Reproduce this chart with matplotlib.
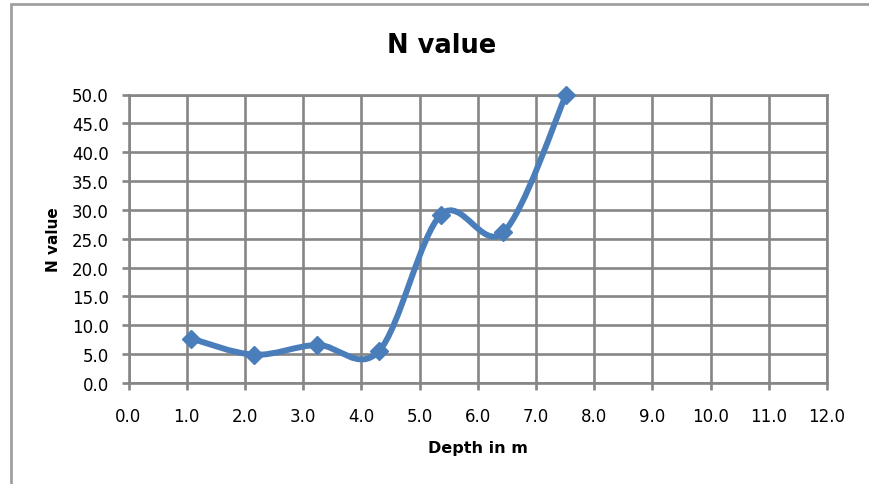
import numpy as np
import matplotlib
matplotlib.use("Agg")
import matplotlib.pyplot as plt
from matplotlib.path import Path
from matplotlib.patches import PathPatch, Rectangle

# data
depth = [1.08, 2.16, 3.24, 4.30, 5.37, 6.44, 7.52]
n_value = [7.7, 4.9, 6.6, 5.5, 29.2, 26.1, 50.0]
x_ticks = np.arange(0, 12.5, 1.0)
y_ticks = np.arange(0, 50.5, 5.0)

plt.rcParams['font.family'] = ['DejaVu Sans']

line_color = "#4A7EBB"
grid_color = "#868686"


def smooth_path(xs, ys):
    # Excel style smoothed line: cubic bezier with catmull-rom control points
    pts = np.column_stack([xs, ys])
    verts = [pts[0]]
    codes = [Path.MOVETO]
    n = len(pts)
    for i in range(n - 1):
        p0 = pts[max(i - 1, 0)]
        p1 = pts[i]
        p2 = pts[i + 1]
        p3 = pts[min(i + 2, n - 1)]
        c1 = p1 + (p2 - p0) / 6.0
        c2 = p2 - (p3 - p1) / 6.0
        verts += [c1, c2, p2]
        codes += [Path.CURVE4] * 3
    return Path(verts, codes)


fig = plt.figure(figsize=(8.7, 4.85), dpi=100)
fig.patches.append(Rectangle((11 / 870, -0.1), 1.2, 1.1 - 4.5 / 485,
                             transform=fig.transFigure, fill=False,
                             edgecolor="#A0A0A0", linewidth=2, zorder=0))

ax = fig.add_axes([128.5 / 870, 1 - 384 / 485, (827 - 128.5) / 870, (384 - 95.5) / 485])
ax.set_xlim(0, 12)
ax.set_ylim(0, 50)
ax.set_xticks(x_ticks)
ax.set_yticks(y_ticks)
ax.set_xticklabels([f"{v:.1f}" for v in x_ticks])
ax.set_yticklabels([f"{v:.1f}" for v in y_ticks])
ax.grid(True, color=grid_color, linewidth=1.9)
ax.set_axisbelow(True)
for s in ax.spines.values():
    s.set_color(grid_color)
    s.set_linewidth(1.9)
ax.tick_params(axis="both", colors=grid_color, width=1.9, length=4.7,
               labelcolor="black", labelsize=12)
ax.tick_params(axis="x", pad=12.5)
ax.tick_params(axis="y", pad=9.5)

patch = PathPatch(smooth_path(depth, n_value), facecolor="none",
                  edgecolor=line_color, linewidth=4.3, capstyle="round",
                  joinstyle="round", zorder=3, clip_on=False)
ax.add_patch(patch)
ax.plot(depth, n_value, linestyle="none", marker="D", markersize=9,
        color=line_color, zorder=4, clip_on=False)

# chart title sits over the whole chart area, not the plot area
fig.text(442 / 870, 1 - 53 / 485, "N value", fontsize=18.5, fontweight="bold",
         ha="center", va="baseline")
ax.set_xlabel("Depth in m", fontsize=11.5, fontweight="bold", labelpad=11)
ax.set_ylabel("N value", fontsize=11, fontweight="bold", labelpad=8)

fig.savefig("out.png", dpi=100)
